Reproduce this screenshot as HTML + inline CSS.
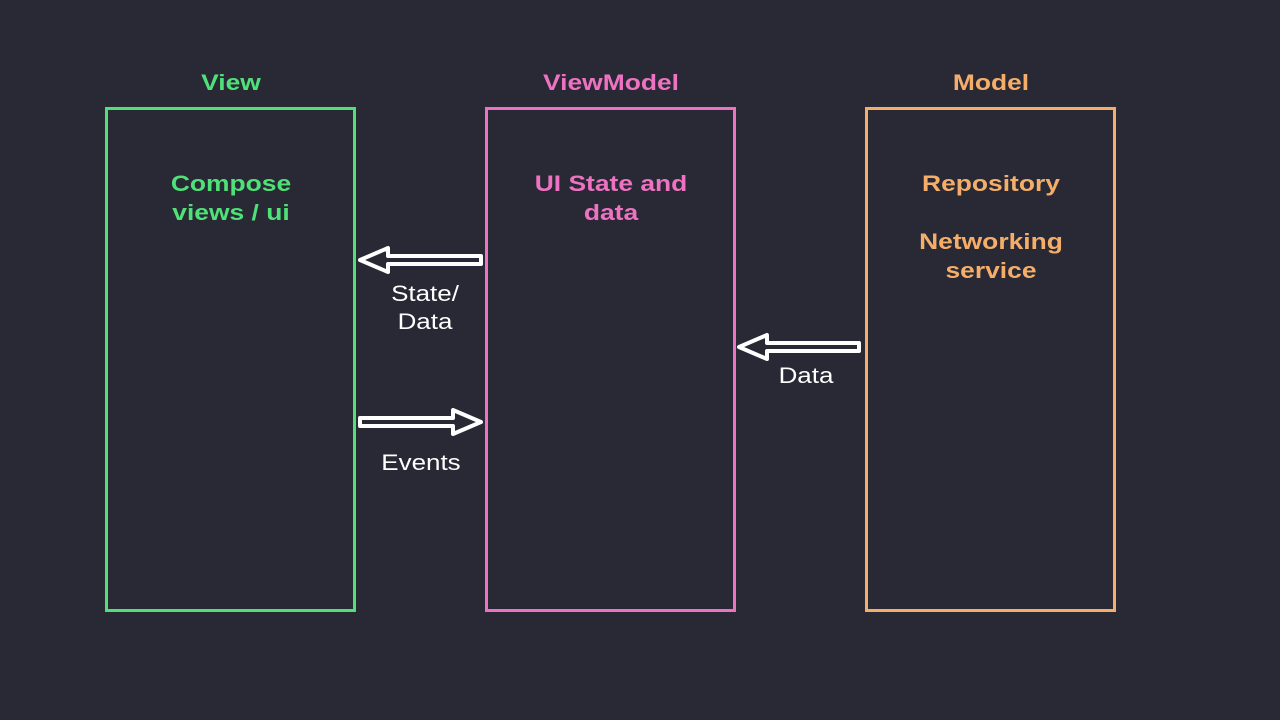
<!DOCTYPE html>
<html><head><style>
body{margin:0;width:1280px;height:720px;background:#282935;position:relative;overflow:hidden;font-family:"Liberation Sans",sans-serif;}
.t{position:absolute;font-weight:bold;font-size:22px;text-align:center;line-height:29px;transform:scaleX(1.2);transform-origin:center;}
.box{position:absolute;top:107px;width:245px;height:499px;border:3px solid;}
.l{position:absolute;color:#fff;font-size:22px;text-align:center;line-height:28px;transform:scaleX(1.18);transform-origin:center;}
</style></head><body>
<div class="box" style="left:105px;border-color:#4fe177"></div>
<div class="box" style="left:485px;border-color:#ee72c2"></div>
<div class="box" style="left:865px;border-color:#f5ae6a"></div>
<div class="t" style="left:106px;width:250px;top:68px;color:#4fe177">View</div>
<div class="t" style="left:486px;width:250px;top:68px;color:#ee72c2">ViewModel</div>
<div class="t" style="left:866px;width:250px;top:68px;color:#f5ae6a">Model</div>
<div class="t" style="left:106px;width:250px;top:169px;color:#4fe177">Compose<br>views / ui</div>
<div class="t" style="left:486px;width:250px;top:169px;color:#ee72c2">UI State and<br>data</div>
<div class="t" style="left:866px;width:250px;top:169px;color:#f5ae6a">Repository<br><br>Networking<br>service</div>
<svg width="1280" height="720" style="position:absolute;left:0;top:0">
<g fill="#282935" stroke="#fff" stroke-width="4" stroke-linejoin="round">
<polygon points="360,260 388,248 388,256 481,256 481,264 388,264 388,272"/>
<polygon points="481,422 453,410 453,418 360,418 360,426 453,426 453,434"/>
<polygon points="739,347 767,335 767,343 859,343 859,351 767,351 767,359"/>
</g></svg>
<div class="l" style="left:375px;width:100px;top:280px">State/<br>Data</div>
<div class="l" style="left:371px;width:100px;top:449px">Events</div>
<div class="l" style="left:756px;width:100px;top:362px">Data</div>
</body></html>
